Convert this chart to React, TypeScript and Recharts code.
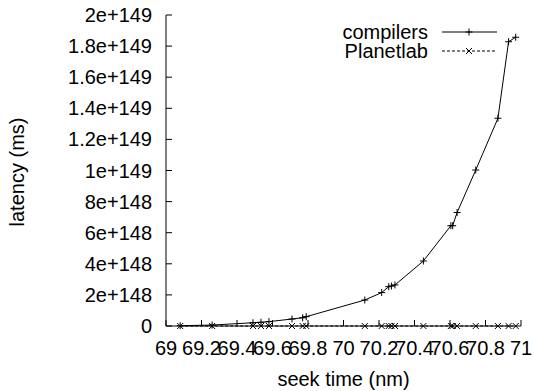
import React from "react"
import { LineChart, Line, XAxis, YAxis } from "recharts"

// seek time (nm) shared by both series
const SEEK_TIME = [
  69.08, 69.26, 69.49, 69.535, 69.58, 69.71, 69.77, 69.79, 70.12, 70.215,
  70.255, 70.27, 70.29, 70.45, 70.605, 70.615, 70.64, 70.745, 70.87, 70.93, 70.97,
]

const COMPILERS = [
  2e146, 6e146, 2.1e147, 2.4e147, 2.8e147, 4.5e147, 5.3e147, 6e147, 1.67e148, 2.15e148,
  2.53e148, 2.57e148, 2.64e148, 4.18e148, 6.45e148, 6.45e148, 7.3e148, 1.003e149, 1.336e149, 1.828e149, 1.857e149,
]

const PLANETLAB = [
  0, 0, 0, 0, 0, 0, 0, 0, 0, 0,
  0, 0, 0, 0, 0, 0, 0, 0, 0, 0, 0,
]

const X_TICKS = [69, 69.2, 69.4, 69.6, 69.8, 70, 70.2, 70.4, 70.6, 70.8, 71]
const X_TICK_LABELS = ["69", "69.2", "69.4", "69.6", "69.8", "70", "70.2", "70.4", "70.6", "70.8", "71"]

const Y_TICKS = [0, 2e148, 4e148, 6e148, 8e148, 1e149, 1.2e149, 1.4e149, 1.6e149, 1.8e149, 2e149]
const Y_TICK_LABELS = [
  "0", "2e+148", "4e+148", "6e+148", "8e+148", "1e+149",
  "1.2e+149", "1.4e+149", "1.6e+149", "1.8e+149", "2e+149",
]

const FONT = "'Liberation Sans', Arial, Helvetica, sans-serif"
const FS = 20
const TICK = 6

const data = SEEK_TIME.map((x, i) => ({ x, compilers: COMPILERS[i], planetlab: PLANETLAB[i] }))

function plusPath(cx: number, cy: number) {
  return `M${cx - 3.5},${cy}h7M${cx},${cy - 3.5}v7`
}
function crossPath(cx: number, cy: number) {
  return `M${cx - 3},${cy - 3}l6,6M${cx - 3},${cy + 3}l6,-6`
}

const PlusDot = (p: any) => (
  <path key={`p${p.index}`} d={plusPath(p.cx, p.cy)} stroke="#000" strokeWidth={1} fill="none" />
)
const CrossDot = (p: any) => (
  <path key={`c${p.index}`} d={crossPath(p.cx, p.cy)} stroke="#000" strokeWidth={1} fill="none" />
)

const labelOf = (ticks: number[], labels: string[], v: number) => {
  const i = ticks.findIndex((t) => Math.abs(t - v) <= Math.abs(v) * 1e-9 + 1e-12)
  return i >= 0 ? labels[i] : String(v)
}

const BottomTick = ({ x, y, payload }: any) => (
  <g>
    <line x1={x} y1={y} x2={x} y2={y - TICK} stroke="#000" />
    <text x={x} y={y + 29} textAnchor="middle" fontSize={FS} fontFamily={FONT} fill="#000">
      {labelOf(X_TICKS, X_TICK_LABELS, payload.value)}
    </text>
  </g>
)
const TopTick = ({ x, y }: any) => <line x1={x} y1={y} x2={x} y2={y + TICK} stroke="#000" />
const LeftTick = ({ x, y, payload }: any) => (
  <g>
    <line x1={x} y1={y} x2={x + TICK} y2={y} stroke="#000" />
    <text x={x - 14} y={y + 7} textAnchor="end" fontSize={FS} fontFamily={FONT} fill="#000">
      {labelOf(Y_TICKS, Y_TICK_LABELS, payload.value)}
    </text>
  </g>
)
const RightTick = ({ x, y }: any) => <line x1={x} y1={y} x2={x - TICK} y2={y} stroke="#000" />

function LegendOverlay() {
  const rows = [
    { name: "compilers", y: 32, dash: undefined, mark: plusPath },
    { name: "Planetlab", y: 51, dash: "3 2", mark: crossPath },
  ]
  return (
    <svg width={534} height={391} style={{ position: "absolute", left: 0, top: 0, pointerEvents: "none" }}>
      {rows.map((r) => (
        <g key={r.name}>
          <text x={428} y={r.y + 7} textAnchor="end" fontSize={FS} fontFamily={FONT} fill="#000">
            {r.name}
          </text>
          <line x1={442} y1={r.y} x2={497} y2={r.y} stroke="#000" strokeDasharray={r.dash} />
          <path d={r.mark(469, r.y)} stroke="#000" fill="none" />
        </g>
      ))}
    </svg>
  )
}

export default function App() {
  return (
    <div style={{ position: "absolute", left: 0, top: 0, width: 534, height: 391, background: "#fff" }}>
      <LineChart width={534} height={391} data={data} margin={{ top: 15, right: 13, bottom: 0, left: 0 }}>
        <XAxis
          dataKey="x" type="number" domain={[69, 71]} ticks={X_TICKS} interval={0}
          height={65} tickSize={0} tickMargin={0} tickLine={false} stroke="#000"
          tick={<BottomTick />}
          label={{
            value: "seek time (nm)",
            content: () => (
              <text x={343.5} y={386} textAnchor="middle" fontSize={FS} fontFamily={FONT} fill="#000">
                seek time (nm)
              </text>
            ),
          }}
        />
        <XAxis
          xAxisId="t" orientation="top" dataKey="x" type="number" domain={[69, 71]} ticks={X_TICKS}
          interval={0} height={0} tickSize={0} tickMargin={0} tickLine={false} stroke="#000" tick={<TopTick />}
        />
        <YAxis
          type="number" domain={[0, 2e149]} ticks={Y_TICKS} interval={0} width={166}
          tickSize={0} tickMargin={0} tickLine={false} stroke="#000" tick={<LeftTick />}
          label={{
            value: "latency (ms)",
            content: () => (
              <text x={24} y={172} transform="rotate(-90 24 172)" textAnchor="middle" fontSize={FS} fontFamily={FONT} fill="#000">
                latency (ms)
              </text>
            ),
          }}
        />
        <YAxis
          yAxisId="r" orientation="right" type="number" domain={[0, 2e149]} ticks={Y_TICKS} interval={0}
          width={0} tickSize={0} tickMargin={0} tickLine={false} stroke="#000" tick={<RightTick />}
        />
        <Line
          dataKey="compilers" type="linear" stroke="#000" strokeWidth={1}
          dot={PlusDot} activeDot={false} isAnimationActive={false}
        />
        <Line
          dataKey="planetlab" type="linear" stroke="#000" strokeWidth={1} strokeDasharray="3 2"
          dot={CrossDot} activeDot={false} isAnimationActive={false}
        />
      </LineChart>
      <LegendOverlay />
    </div>
  )
}
